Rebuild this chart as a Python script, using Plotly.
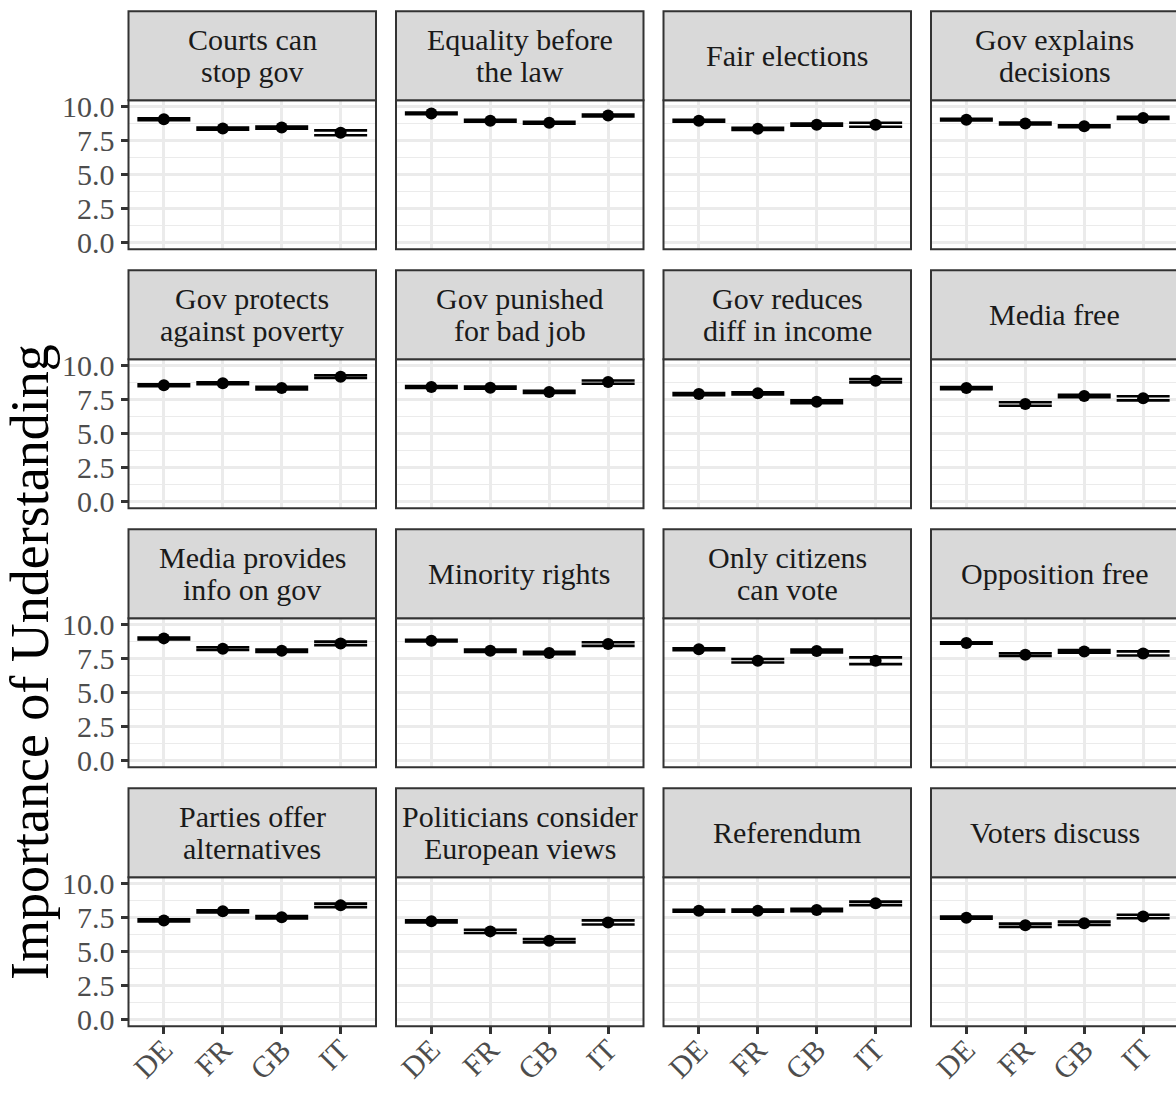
import plotly.graph_objects as go

W, H = 1176, 1095

countries = ["DE", "FR", "GB", "IT"]

facet_titles = [
    "Courts can<br>stop gov", "Equality before<br>the law", "Fair elections", "Gov explains<br>decisions",
    "Gov protects<br>against poverty", "Gov punished<br>for bad job", "Gov reduces<br>diff in income", "Media free",
    "Media provides<br>info on gov", "Minority rights", "Only citizens<br>can vote", "Opposition free",
    "Parties offer<br>alternatives", "Politicians consider<br>European views", "Referendum", "Voters discuss",
]

means = [
    [9.10, 8.41, 8.48, 8.09],
    [9.52, 8.98, 8.84, 9.37],
    [8.98, 8.39, 8.69, 8.69],
    [9.06, 8.78, 8.58, 9.19],
    [8.57, 8.72, 8.37, 9.21],
    [8.45, 8.40, 8.08, 8.81],
    [7.93, 7.98, 7.36, 8.91],
    [8.37, 7.19, 7.78, 7.61],
    [9.01, 8.25, 8.10, 8.64],
    [8.84, 8.10, 7.93, 8.59],
    [8.20, 7.36, 8.08, 7.36],
    [8.67, 7.81, 8.05, 7.90],
    [7.31, 7.98, 7.54, 8.42],
    [7.24, 6.50, 5.81, 7.16],
    [8.03, 8.03, 8.08, 8.57],
    [7.51, 6.95, 7.10, 7.60],
]

ci_half = [
    [0.07, 0.08, 0.08, 0.18],
    [0.06, 0.07, 0.07, 0.07],
    [0.07, 0.08, 0.08, 0.15],
    [0.06, 0.07, 0.07, 0.08],
    [0.07, 0.07, 0.10, 0.10],
    [0.07, 0.08, 0.08, 0.12],
    [0.08, 0.08, 0.10, 0.12],
    [0.08, 0.13, 0.09, 0.15],
    [0.07, 0.10, 0.09, 0.13],
    [0.06, 0.09, 0.09, 0.13],
    [0.07, 0.13, 0.10, 0.25],
    [0.06, 0.10, 0.09, 0.15],
    [0.08, 0.08, 0.09, 0.13],
    [0.08, 0.12, 0.12, 0.15],
    [0.07, 0.08, 0.09, 0.13],
    [0.08, 0.12, 0.12, 0.13],
]

y_title = "Importance of Understanding"

FONT = "Liberation Serif"
col_left = [128.5, 396.0, 663.5, 931.0]
panel_w = 247.5
row_top = [100.2, 359.2, 618.2, 877.2]
panel_h = 149.0
strip_h = 89.0

fig = go.Figure()
layout = {}
shapes = []
annotations = []

for i in range(16):
    r, c = divmod(i, 4)
    L = col_left[c]
    R = L + panel_w
    T = row_top[r]
    B = T + panel_h
    x0 = L / W
    x1 = min(R / W, 1.0)
    vis_w = min(R, W) - L
    xr = [-0.6, -0.6 + 4.2 * vis_w / panel_w]
    y0 = (H - B) / H
    y1 = (H - T) / H
    n = "" if i == 0 else str(i + 1)
    layout["xaxis" + n] = dict(
        domain=[x0, x1], range=xr, anchor="y" + n, type="category",
        categoryorder="array", categoryarray=countries, automargin=False,
        showgrid=True, gridcolor="#EBEBEB", gridwidth=2.6, zeroline=False,
        showline=False,
        ticks="outside" if r == 3 else "", ticklen=7, tickwidth=2.6, tickcolor="#333333",
        showticklabels=(r == 3), tickangle=-45, ticklabelstandoff=-14,
        tickfont=dict(family=FONT, size=30, color="#4D4D4D"),
    )
    layout["yaxis" + n] = dict(
        domain=[y0, y1], range=[-0.5, 10.5], anchor="x" + n, automargin=False,
        tickmode="linear", tick0=0, dtick=2.5, tickformat=".1f",
        showgrid=True, gridcolor="#EBEBEB", gridwidth=2.6, zeroline=False,
        minor=dict(dtick=1.25, tick0=0, showgrid=True, gridcolor="#EBEBEB", gridwidth=1.3),
        showline=False,
        ticks="outside" if c == 0 else "", ticklen=7, tickwidth=2.6, tickcolor="#333333",
        showticklabels=(c == 0),
        tickfont=dict(family=FONT, size=30, color="#4D4D4D"),
    )
    fig.add_trace(go.Scatter(
        x=countries, y=means[i], xaxis="x" + n, yaxis="y" + n,
        mode="markers",
        marker=dict(color="black", size=12),
        error_y=dict(type="data", array=ci_half[i], symmetric=True,
                     width=26.5, thickness=2.6, color="black"),
        showlegend=False, cliponaxis=False,
    ))
    shapes.append(dict(type="rect", xref="paper", yref="paper",
                       x0=L / W, x1=R / W, y0=y0, y1=y1,
                       line=dict(color="#333333", width=2), fillcolor="rgba(0,0,0,0)", layer="above"))
    sT = T - strip_h
    shapes.append(dict(type="rect", xref="paper", yref="paper",
                       x0=L / W, x1=R / W, y0=(H - T) / H, y1=(H - sT) / H,
                       line=dict(color="#333333", width=2), fillcolor="#D9D9D9", layer="above"))
    lines = facet_titles[i].split("<br>")
    cy = sT + strip_h / 2
    offs = [0.0] if len(lines) == 1 else [-16.0, 16.0]
    for ln, off in zip(lines, offs):
        annotations.append(dict(
            text=ln, xref="paper", yref="paper",
            x=(L + panel_w / 2) / W, y=(H - (cy + off)) / H,
            xanchor="center", yanchor="middle", showarrow=False,
            font=dict(family=FONT, size=30, color="#1A1A1A"),
        ))

annotations.append(dict(
    text=y_title, xref="paper", yref="paper", x=30 / W, y=(H - 662) / H,
    xanchor="center", yanchor="middle", textangle=-90, showarrow=False,
    font=dict(family=FONT, size=54, color="black"),
))

fig.update_layout(
    width=W, height=H, margin=dict(l=0, r=0, t=0, b=0, pad=0, autoexpand=False),
    template="none",
    paper_bgcolor="white", plot_bgcolor="white",
    shapes=shapes, annotations=annotations, **layout,
)

fig.write_html(
    "out.html",
    config={"displayModeBar": False},
    post_script="document.body.style.margin='0';document.body.style.padding='0';document.body.style.overflow='hidden';",
)
